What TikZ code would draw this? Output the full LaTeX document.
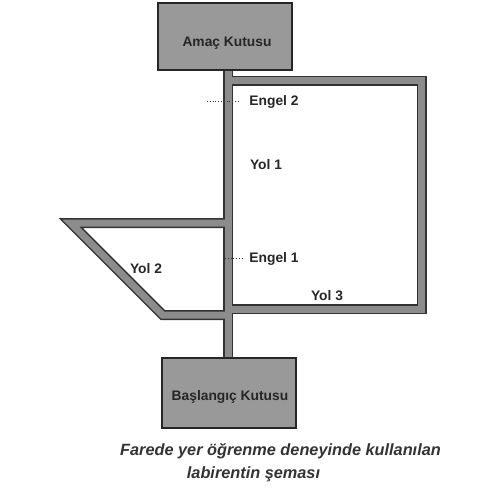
\documentclass[tikz,border=0pt]{standalone}
\usepackage{fontspec}
\setmainfont{Liberation Sans}
\begin{document}
\begin{tikzpicture}[x=1pt,y=-1pt,
  wallout/.style={line width=10pt,draw=black!80,line join=miter,miter limit=10},
  wallin/.style={line width=7pt,draw=black!45,line join=miter,miter limit=10},
  boxnode/.style={draw=black!85,line width=1.2pt,fill=black!40,inner sep=0pt},
  lbl/.style={anchor=base,inner sep=0pt,font=\fontsize{13.8}{16}\selectfont\bfseries,text=black!85},
  captext/.style={anchor=base,inner sep=0pt,font=\fontsize{16.3}{19}\selectfont\bfseries\itshape,text=black!80},
  dotline/.style={dotted,line width=0.8pt,draw=black!80}]
\useasboundingbox (0,0) rectangle (491,493);
\fill[white] (0,0) rectangle (491,493);
% maze corridor key points
\coordinate (stemtop) at (228,70);
\coordinate (stembot) at (228,358);
\coordinate (r1) at (228,80.5);
\coordinate (r2) at (421.5,80.5);
\coordinate (r3) at (421.5,309);
\coordinate (r4) at (228,309);
\coordinate (l1) at (228,223);
\coordinate (l2) at (70.7,223);
\coordinate (l3) at (162.7,315);
\coordinate (l4) at (228,315);
% outlines
\draw[wallout] (stemtop) -- (stembot);
\draw[wallout] (r1) -- (r2) -- (r3) -- (r4);
\draw[wallout] (l1) -- (l2) -- (l3) -- (l4);
% fills
\draw[wallin] (stemtop) -- (stembot);
\draw[wallin] (r1) -- (r2) -- (r3) -- (r4);
\draw[wallin] (l1) -- (l2) -- (l3) -- (l4);
% boxes
\node[boxnode,minimum width=134pt,minimum height=67pt] (goal) at (225,36.5) {};
\node[lbl] (goaltxt) at (227,46) {Amaç Kutusu};
\node[boxnode,minimum width=134pt,minimum height=70pt] (start) at (229,393) {};
\node[lbl] (starttxt) at (230,400) {Başlangıç Kutusu};
% labels
\node[lbl] (engel2) at (274,105) {Engel 2};
\node[lbl] (yol1) at (266,169) {Yol 1};
\node[lbl] (engel1) at (274,262) {Engel 1};
\node[lbl] (yol2) at (146,273) {Yol 2};
\node[lbl] (yol3) at (327,300) {Yol 3};
% barrier markers
\coordinate (d2) at (207,0);
\coordinate (d1) at (225,0);
\draw[dotline,shorten >=9pt] (d2 |- engel2.west) -- (engel2.west);
\draw[dotline,shorten >=7pt] (d1 |- engel1.west) -- (engel1.west);
% caption
\node[captext] (cap1) at (280.5,455) {Farede yer öğrenme deneyinde kullanılan};
\node[captext] (cap2) at (253.5,478) {labirentin şeması};
\end{tikzpicture}
\end{document}
